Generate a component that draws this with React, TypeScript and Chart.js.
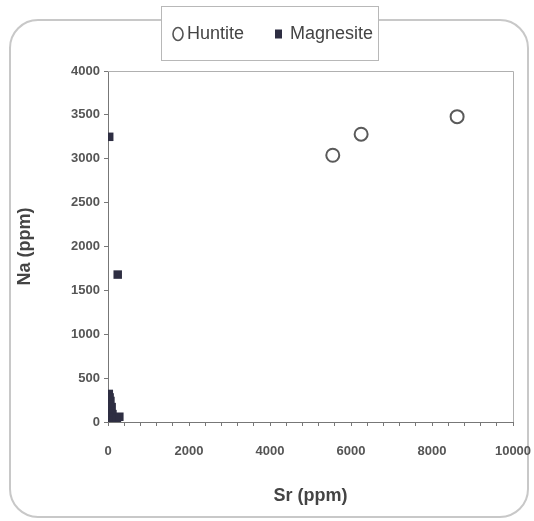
import React, { useEffect, useRef } from "react";
import { Chart, registerables } from "chart.js";

Chart.register(...registerables);

const huntiteSr = [5550, 6250, 8620];
const huntiteNa = [3040, 3280, 3480];

const magnesiteSr = [30, 240, 20, 40, 60, 30, 90, 60, 110, 40, 150, 220, 80, 10, 280];
const magnesiteNa = [3250, 1680, 320, 280, 240, 200, 170, 120, 90, 60, 50, 40, 20, 10, 60];

const seriesLabels = ["Huntite", "Magnesite"];
const xTitle = "Sr (ppm)";
const yTitle = "Na (ppm)";

const frameLegendPlugin = {
  id: "frameLegend",
  beforeDraw(chart: any) {
    const ctx = chart.ctx;
    ctx.save();
    ctx.fillStyle = "#ffffff";
    ctx.fillRect(0, 0, chart.width, chart.height);
    const x0 = 10, y0 = 20, x1 = 528, y1 = 517, r = 28;
    ctx.strokeStyle = "#c8c8c8";
    ctx.lineWidth = 2;
    ctx.beginPath();
    ctx.moveTo(x0 + r, y0);
    ctx.lineTo(x1 - r, y0);
    ctx.arcTo(x1, y0, x1, y0 + r, r);
    ctx.lineTo(x1, y1 - r);
    ctx.arcTo(x1, y1, x1 - r, y1, r);
    ctx.lineTo(x0 + r, y1);
    ctx.arcTo(x0, y1, x0, y1 - r, r);
    ctx.lineTo(x0, y0 + r);
    ctx.arcTo(x0, y0, x0 + r, y0, r);
    ctx.closePath();
    ctx.stroke();
    ctx.restore();
  },
  afterDraw(chart: any) {
    const ctx = chart.ctx;
    const a = chart.chartArea;
    ctx.save();
    ctx.strokeStyle = "#b0b0b0";
    ctx.lineWidth = 1;
    ctx.beginPath();
    ctx.moveTo(a.left, a.top + 0.5);
    ctx.lineTo(a.right + 0.5, a.top + 0.5);
    ctx.lineTo(a.right + 0.5, a.bottom);
    ctx.stroke();

    const lx = 161, ly = 6, lw = 217, lh = 54;
    ctx.fillStyle = "#ffffff";
    ctx.fillRect(lx, ly, lw, lh);
    ctx.strokeStyle = "#b8b8b8";
    ctx.lineWidth = 1;
    ctx.strokeRect(lx + 0.5, ly + 0.5, lw, lh);

    const cy = 34;
    const ds = chart.data.datasets;
    ctx.font = "18px 'Liberation Sans', Arial, sans-serif";
    ctx.textBaseline = "middle";
    ctx.fillStyle = "#444444";
    ctx.strokeStyle = "#555555";
    ctx.lineWidth = 1.6;
    ctx.beginPath();
    ctx.ellipse(178, cy, 5, 6.5, 0, 0, Math.PI * 2);
    ctx.stroke();
    ctx.fillText(ds[0].label, 187, cy);
    ctx.fillStyle = "#2e2e42";
    ctx.fillRect(275, cy - 4.5, 7, 9);
    ctx.fillStyle = "#444444";
    ctx.fillText(ds[1].label, 290, cy);
    ctx.restore();
  },
};

export default function App() {
  const canvasRef = useRef<HTMLCanvasElement | null>(null);

  useEffect(() => {
    document.body.style.margin = "0";
    const canvas = canvasRef.current;
    if (!canvas) return;
    const tickFont = { family: "'Liberation Sans', Arial, sans-serif", size: 13, weight: "bold" as const };
    const titleFont = { family: "'Liberation Sans', Arial, sans-serif", size: 18, weight: "bold" as const };
    const chart = new Chart(canvas, {
      type: "scatter",
      data: {
        datasets: [
          {
            label: seriesLabels[0],
            data: huntiteSr.map((x, i) => ({ x, y: huntiteNa[i] })),
            pointStyle: "circle",
            pointRadius: 6.5,
            borderWidth: 2,
            borderColor: "#5a5a5a",
            backgroundColor: "rgba(255,255,255,0)",
          },
          {
            label: seriesLabels[1],
            data: magnesiteSr.map((x, i) => ({ x, y: magnesiteNa[i] })),
            pointStyle: "rect",
            pointRadius: 6,
            borderWidth: 0,
            borderColor: "#2e2e42",
            backgroundColor: "#2e2e42",
          },
        ],
      },
      options: {
        responsive: false,
        animation: false,
        devicePixelRatio: 1,
        layout: { padding: { left: 0, top: 71, right: 21, bottom: 0 } },
        plugins: {
          legend: { display: false },
          tooltip: { enabled: false },
        },
        scales: {
          x: {
            type: "linear",
            min: 0,
            max: 10000,
            afterFit: (s: any) => {
              s.height = 99;
              s.paddingLeft = 0;
              s.paddingRight = 0;
            },
            ticks: {
              stepSize: 400,
              maxTicksLimit: 100,
              autoSkip: false,
              maxRotation: 0,
              padding: 18,
              color: "#555555",
              font: tickFont,
              callback: (v: any) => (Number(v) % 2000 === 0 ? String(v) : ""),
            },
            grid: { drawOnChartArea: false, drawTicks: true, tickLength: 4, color: "#777777" },
            border: { color: "#777777", width: 1 },
            title: {
              display: true,
              text: xTitle,
              color: "#444444",
              font: titleFont,
              padding: { top: 0, bottom: 14 },
            },
          },
          y: {
            type: "linear",
            min: 0,
            max: 4000,
            afterFit: (s: any) => {
              s.width = 108;
              s.paddingTop = 0;
              s.paddingBottom = 0;
            },
            ticks: {
              stepSize: 500,
              padding: 4,
              color: "#555555",
              font: tickFont,
              callback: (v: any) => String(v),
            },
            grid: { drawOnChartArea: false, drawTicks: true, tickLength: 4, color: "#777777" },
            border: { color: "#777777", width: 1 },
            title: {
              display: true,
              text: yTitle,
              color: "#444444",
              font: titleFont,
              padding: { top: 14, bottom: 0 },
            },
          },
        },
      },
      plugins: [frameLegendPlugin],
    });
    return () => chart.destroy();
  }, []);

  return (
    <div style={{ width: 534, height: 521 }}>
      <canvas ref={canvasRef} width={534} height={521} style={{ display: "block" }} />
    </div>
  );
}
